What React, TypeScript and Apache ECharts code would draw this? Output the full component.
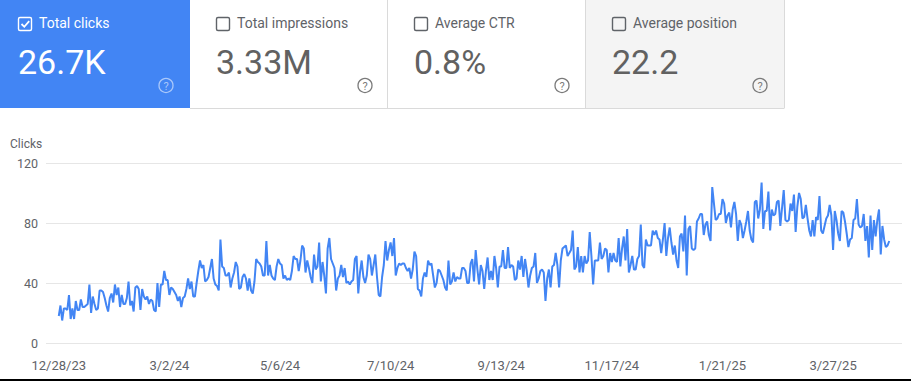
import React, { useEffect, useRef } from 'react';
import * as echarts from 'echarts';

// ---- data ----
const tickDays = [0, 65, 130, 195, 260, 325, 390, 455];
const tickLabels = ['12/28/23', '3/2/24', '5/6/24', '7/10/24', '9/13/24', '11/17/24', '1/21/25', '3/27/25'];
const yTicks = [0, 40, 80, 120];
const yAxisTitle = 'Clicks';

const metricLabels = ['Total clicks', 'Total impressions', 'Average CTR', 'Average position'];
const metricValues = ['26.7K', '3.33M', '0.8%', '22.2'];
const metricSelected = [true, false, false, false];

// daily clicks, 12/28/23 onward
const clicksDec23ToApr24 = [
  18, 25, 15, 23, 23, 22, 32, 16, 23, 16, 28, 22, 22, 29, 24, 24, 25, 26, 39,
  20, 31, 26, 22, 23, 35, 35, 34, 30, 25, 21,
  30, 33, 27, 39, 32, 37, 24, 32, 26, 26, 30, 41, 25, 28, 21, 37, 38, 36,
  22, 36, 31, 29, 31, 26, 29, 28, 22, 21, 40, 24, 39, 39, 48,
  42, 42, 32, 37, 36, 34, 32, 28, 31, 24, 30, 31, 36, 43, 36, 41, 31, 31, 40, 48,
  55, 50, 52, 41, 42, 44, 50, 56, 43, 39, 38, 35, 69, 51, 50, 45, 45,
];
const clicksApr24ToAug24 = [
  47, 37, 43, 47, 54, 51, 36, 37, 44, 46,
  43, 35, 43, 35, 33, 41, 56, 54, 53, 51,
  45, 45, 68, 45, 52, 45, 43, 42, 51, 56,
  53, 52, 43, 45, 42, 43, 42, 48, 58, 56,
  56, 48, 55, 65, 63, 47, 55, 50, 44, 40,
  59, 49, 51, 67, 41, 54, 45, 33, 63, 70,
  56, 53, 50, 35, 43, 45, 52, 44, 50, 40,
  41, 39, 41, 42, 56, 58, 33, 47, 55, 44,
  40, 45, 59, 56, 45, 52, 59, 44, 32, 31,
  44, 52, 68, 55, 62, 67, 58, 70, 45, 50,
  53, 52, 53, 53, 50, 48, 50, 43, 49, 61,
  58, 36, 35, 31, 43, 47, 44, 55, 52, 53,
  45, 37, 40, 49, 48, 45, 42, 37, 35,
];
const clicksAug24ToDec24 = [
  55, 39, 41, 47, 41, 44, 43, 43, 50, 50,
  48, 40, 40, 53, 56, 41, 62, 49, 39, 52,
  48, 36, 48, 57, 42, 48, 42, 58, 50, 37,
  51, 51, 62, 50, 50, 64, 50, 52, 51, 42,
  43, 55, 49, 58, 44, 56, 48, 37, 45, 50,
  51, 60, 40, 43, 48, 49, 47, 28, 43, 49,
  37, 51, 52, 60, 52, 37, 55, 63, 64, 65,
  58, 60, 62, 75, 49, 51, 64, 47, 58, 47,
  58, 53, 55, 74, 58, 39, 55, 55, 55, 67,
  56, 58, 63, 62, 47, 60, 54, 60, 55, 54,
  70, 51, 63, 71, 55, 76, 47, 52, 58, 49,
  49, 56, 58, 79, 52, 50, 69, 65, 65, 65,
  75, 72, 75, 70, 69, 60, 69, 80, 58, 70,
];
const clicksDec24ToApr25 = [
  77, 67, 59, 65, 55, 50, 71, 73, 61,
  85, 45, 76, 78, 63, 62, 63, 81, 83, 86,
  86, 72, 79, 81, 72, 68, 104, 93, 82,
  83, 86, 86, 96, 93, 80, 85, 87, 77, 89,
  94, 86, 68, 82, 79, 70, 75, 81, 88, 75,
  69, 67, 94, 95, 83, 89, 107, 76, 88, 88,
  101, 75, 89, 85, 86, 94, 95, 78, 90, 102,
  82, 81, 82, 93, 88, 99, 74, 91, 100, 96,
  83, 84, 92, 83, 75, 71, 82, 71, 84, 82,
  98, 75, 73, 78, 83, 85, 92, 85, 62, 88,
  82, 73, 68, 88, 87, 81, 73, 64, 69, 70,
  82, 83, 96, 79, 77, 78, 86, 68, 78, 57,
  85, 62, 82, 71, 82, 89, 59, 78, 69, 64, 65, 68,
];

const FONT = 'Roboto, Arial, sans-serif';
const BLUE = '#4285f4';
const GRAY = '#5f6368';

export default function App() {
  const ref = useRef<HTMLDivElement>(null);
  useEffect(() => {
    if (!ref.current) return;
    const chart = echarts.init(ref.current, undefined, { renderer: 'svg' });
    const clicks = [...clicksDec23ToApr24, ...clicksApr24ToAug24, ...clicksAug24ToDec24, ...clicksDec24ToApr25];
    const data = clicks.map((v, i) => [i, v]);

    const cardX = [-10, 190, 387, 585];
    const cardW = [200, 197, 198, 199];
    const cardFill = [BLUE, '#ffffff', '#ffffff', '#f4f4f4'];
    const boxX = [18.5, 216.5, 414.5, 612.5];
    const helpX = [166, 365, 562, 760];
    const graphics: any[] = [];
    for (let i = 0; i < 4; i++) {
      const sel = metricSelected[i];
      const fg = sel ? '#ffffff' : GRAY;
      graphics.push({ type: 'rect', shape: { x: cardX[i], y: 0, width: cardW[i], height: 108 }, style: { fill: cardFill[i] }, silent: true });
      graphics.push({ type: 'rect', shape: { x: boxX[i], y: 17.5, width: 13, height: 13, r: 1.5 }, style: { fill: 'none', stroke: fg, lineWidth: 1.4 } });
      if (sel) {
        graphics.push({ type: 'polyline', shape: { points: [[21.5, 24], [24.3, 26.8], [29.2, 21.2]] }, style: { stroke: '#ffffff', lineWidth: 1.8, fill: 'none' } });
      }
      graphics.push({ type: 'text', x: boxX[i] + 20.5, y: 23, style: { text: metricLabels[i], fill: fg, font: `400 14px ${FONT}`, verticalAlign: 'middle' } });
      graphics.push({ type: 'text', x: boxX[i] - 0.5, y: 62, style: { text: metricValues[i], fill: sel ? '#ffffff' : '#616161', font: `400 34px ${FONT}`, verticalAlign: 'middle' } });
      const hc = sel ? 'rgba(255,255,255,0.55)' : '#7a7a7a';
      graphics.push({ type: 'circle', shape: { cx: helpX[i], cy: 85.5, r: 7 }, style: { fill: 'none', stroke: hc, lineWidth: 1.3 } });
      graphics.push({ type: 'text', x: helpX[i], y: 86, style: { text: '?', fill: hc, font: `400 11px ${FONT}`, align: 'center', verticalAlign: 'middle' } });
    }
    const border = '#dadada';
    graphics.push({ type: 'line', shape: { x1: 387.5, y1: 0, x2: 387.5, y2: 108 }, style: { stroke: border, lineWidth: 1 } });
    graphics.push({ type: 'line', shape: { x1: 585.5, y1: 0, x2: 585.5, y2: 108 }, style: { stroke: border, lineWidth: 1 } });
    graphics.push({ type: 'line', shape: { x1: 784.5, y1: 0, x2: 784.5, y2: 108 }, style: { stroke: border, lineWidth: 1 } });
    graphics.push({ type: 'line', shape: { x1: 190, y1: 108.5, x2: 784.5, y2: 108.5 }, style: { stroke: border, lineWidth: 1 } });
    graphics.push({ type: 'text', x: 10, y: 144, style: { text: yAxisTitle, fill: GRAY, font: `400 12px ${FONT}`, verticalAlign: 'middle' } });
    graphics.push({ type: 'rect', shape: { x: 0, y: 379, width: 911, height: 2 }, style: { fill: '#000000' } });

    chart.setOption({
      animation: false,
      backgroundColor: '#ffffff',
      grid: { left: 46, right: 9, top: 163, bottom: 38 },
      xAxis: {
        type: 'value',
        min: -7.5,
        max: 495.5,
        axisLine: { show: false },
        axisTick: { show: false },
        splitLine: { show: false },
        axisLabel: {
          customValues: tickDays,
          formatter: (v: number) => {
            const k = tickDays.indexOf(Math.round(v));
            return k >= 0 ? tickLabels[k] : '';
          },
          color: GRAY,
          fontSize: 13,
          fontFamily: FONT,
          margin: 16,
        },
      },
      yAxis: {
        type: 'value',
        min: yTicks[0],
        max: yTicks[yTicks.length - 1],
        interval: 40,
        axisLine: { show: false },
        axisTick: { show: false },
        axisLabel: { color: GRAY, fontSize: 12.5, fontFamily: FONT, margin: 8 },
        splitLine: { lineStyle: { color: '#e6e6e6', width: 1 } },
      },
      series: [
        {
          type: 'line',
          data,
          showSymbol: false,
          lineStyle: { color: BLUE, width: 2 },
          itemStyle: { color: BLUE },
        },
      ],
      graphic: graphics,
    });
    return () => chart.dispose();
  }, []);
  return <div ref={ref} style={{ position: 'fixed', left: 0, top: 0, width: 911, height: 381, background: '#fff' }} />;
}
